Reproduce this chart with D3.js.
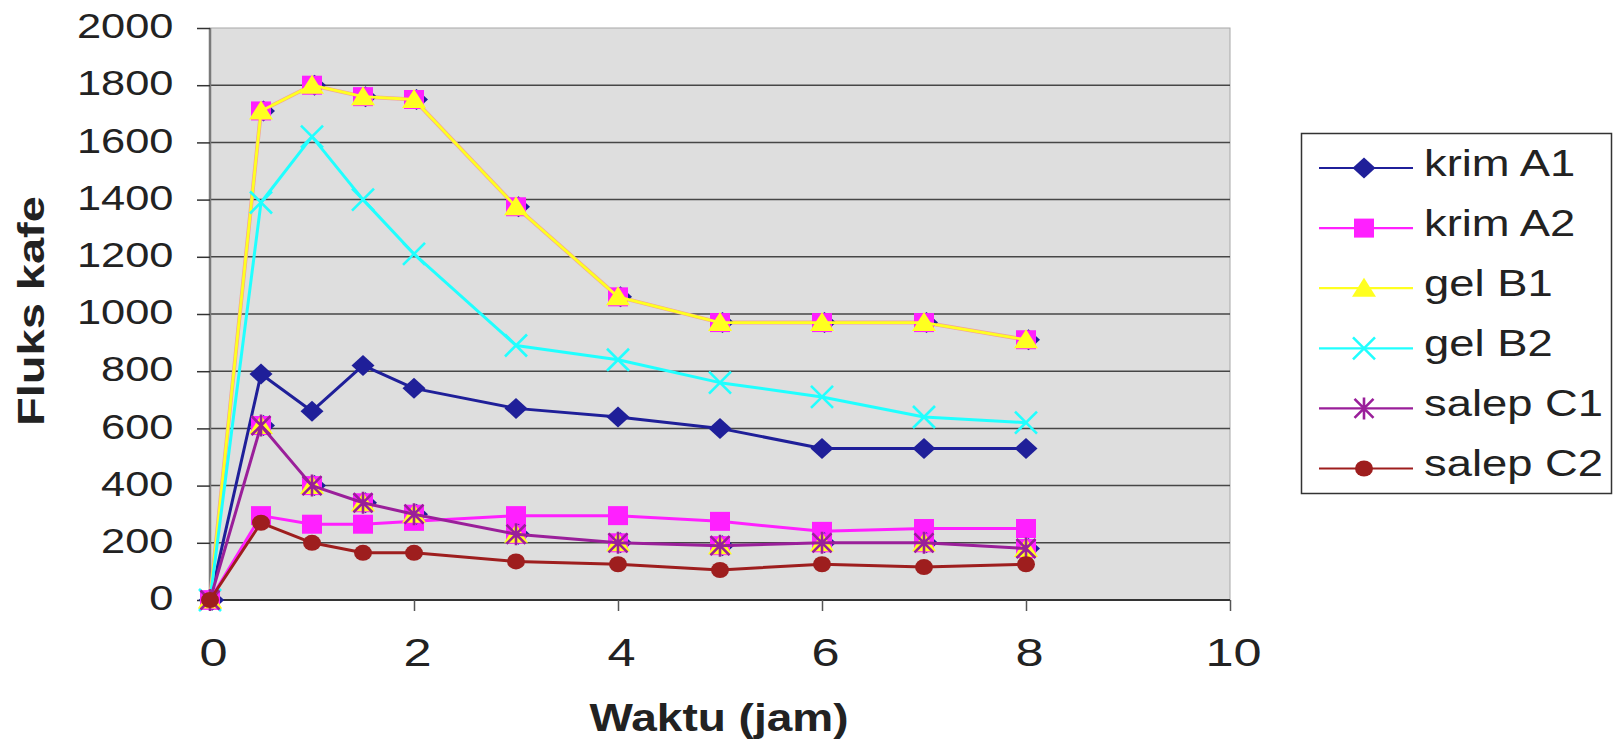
<!DOCTYPE html>
<html>
<head>
<meta charset="utf-8">
<script src="https://cdn.jsdelivr.net/npm/d3@7"></script>
<style>
  html, body { margin: 0; padding: 0; background: #fff; }
  svg { display: block; }
  text { font-family: "Liberation Sans", Arial, sans-serif; fill: #222; }
</style>
</head>
<body>
<svg id="chart" width="1616" height="741"></svg>
<script>
// ---- data ----
const times   = [0, 0.5, 1, 1.5, 2, 3, 4, 5, 6, 7, 8];
const krimA1  = [0, 790, 660, 820, 740, 670, 640, 600, 530, 530, 530];
const krimA2  = [0, 295, 265, 265, 275, 295, 295, 275, 240, 250, 250];
const gelB1   = [0, 1710, 1800, 1760, 1750, 1375, 1060, 970, 970, 970, 910];
const gelB2   = [0, 1390, 1620, 1400, 1210, 890, 840, 760, 710, 640, 620];
const salepC1 = [0, 610, 400, 340, 300, 230, 200, 190, 200, 200, 180];
const salepC2 = [0, 270, 200, 165, 165, 135, 125, 105, 125, 115, 125];
const seriesNames = ["krim A1", "krim A2", "gel B1", "gel B2", "salep C1", "salep C2"];
const xTicks = [0, 2, 4, 6, 8, 10];
const yTicks = [0, 200, 400, 600, 800, 1000, 1200, 1400, 1600, 1800, 2000];
const xTitle = "Waktu (jam)";
const yTitle = "Fluks kafe";

// ---- styles ----
const C = {
  navy: "#1F1F99", magenta: "#FF20FF", yellow: "#FFFF20",
  cyan: "#20FFFF", purple: "#9A1F9A", darkred: "#9E1E1E"
};
const series = [
  {name: seriesNames[0], values: krimA1, color: C.navy, marker: "diamond"},
  {name: seriesNames[1], values: krimA2, color: C.magenta, marker: "square"},
  {name: seriesNames[2], values: gelB1, color: C.yellow, marker: "triangle"},
  {name: seriesNames[3], values: gelB2, color: C.cyan, marker: "cross"},
  {name: seriesNames[4], values: salepC1, color: C.purple, marker: "asterisk"},
  {name: seriesNames[5], values: salepC2, color: C.darkred, marker: "circle"}
];

const svg = d3.select("#chart");
const P = {left: 210, right: 1230, top: 28, bottom: 600};
const x = d3.scaleLinear().domain([0, 10]).range([P.left, P.right]);
const y = d3.scaleLinear().domain([0, 2000]).range([P.bottom, P.top]);

// plot background
svg.append("rect").attr("x", P.left).attr("y", P.top)
  .attr("width", P.right - P.left).attr("height", P.bottom - P.top)
  .attr("fill", "#DEDEDE").attr("stroke", "#A8A8A8").attr("stroke-width", 1);

// gridlines
svg.append("g").selectAll("line").data(yTicks.filter(v => v > 0 && v < 2000)).join("line")
  .attr("x1", P.left).attr("x2", P.right)
  .attr("y1", d => y(d)).attr("y2", d => y(d))
  .attr("stroke", "#464646").attr("stroke-width", 1.5);

// left & bottom axis lines
svg.append("line").attr("x1", P.left).attr("x2", P.left).attr("y1", P.top).attr("y2", P.bottom)
  .attr("stroke", "#7A7A7A").attr("stroke-width", 2.5);
svg.append("line").attr("x1", P.left).attr("x2", P.right).attr("y1", P.bottom).attr("y2", P.bottom)
  .attr("stroke", "#333").attr("stroke-width", 2);

// y axis
const gy = svg.append("g").attr("transform", `translate(${P.left},0)`)
  .call(d3.axisLeft(y).tickValues(yTicks).tickSize(13).tickFormat(d => d));
gy.select(".domain").remove();
gy.selectAll(".tick line").attr("stroke", "#333").attr("stroke-width", 1.5);
gy.selectAll(".tick text")
  .attr("x", null).attr("dy", null).attr("fill", "#222")
  .attr("text-anchor", "end")
  .attr("transform", "translate(-36.5,9.6) scale(1.24,1)")
  .style("font-size", "35px").style("font-family", "'Liberation Sans', Arial, sans-serif");

// x axis
const gx = svg.append("g").attr("transform", `translate(0,${P.bottom})`)
  .call(d3.axisBottom(x).tickValues(xTicks).tickSize(11).tickFormat(d => d));
gx.select(".domain").remove();
gx.selectAll(".tick line").attr("stroke", "#555").attr("stroke-width", 1.5);
gx.selectAll(".tick text")
  .attr("y", null).attr("dy", null).attr("fill", "#222")
  .attr("text-anchor", "middle")
  .attr("transform", "translate(3,66) scale(1.3,1)")
  .style("font-size", "38.8px").style("font-family", "'Liberation Sans', Arial, sans-serif");

// titles
svg.append("text").attr("transform", "translate(719,731) scale(1.18,1)")
  .attr("text-anchor", "middle").style("font-size", "39px").style("font-weight", "bold")
  .text(xTitle);
svg.append("text").attr("transform", "translate(43.5,311) rotate(-90) scale(1.27,1)")
  .attr("text-anchor", "middle").style("font-size", "37px").style("font-weight", "bold")
  .text(yTitle);

// ---- markers ----
function drawMarker(g, type, color, sc) {
  sc = sc || 1;
  if (type === "diamond") {
    g.append("path").attr("d", `M0,${-10.5*sc}L${11.5*sc},0L0,${10.5*sc}L${-11.5*sc},0Z`).attr("fill", color);
  } else if (type === "square") {
    g.append("rect").attr("x", -10*sc).attr("y", -9.5*sc).attr("width", 20*sc).attr("height", 19*sc).attr("fill", color);
  } else if (type === "triangle") {
    g.append("path").attr("d", `M0,${-10.5*sc}L${12*sc},${8.5*sc}L${-12*sc},${8.5*sc}Z`).attr("fill", color);
  } else if (type === "cross") {
    const s = 11*sc;
    g.append("path").attr("d", `M${-s},${-s}L${s},${s}M${-s},${s}L${s},${-s}`)
      .attr("stroke", color).attr("stroke-width", 2.6).attr("fill", "none");
  } else if (type === "asterisk") {
    const s = 9.5*sc;
    g.append("path").attr("d", `M${-s},${-s}L${s},${s}M${-s},${s}L${s},${-s}M0,${-s-1.5}L0,${s+1.5}`)
      .attr("stroke", color).attr("stroke-width", 2.6).attr("fill", "none");
  } else if (type === "circle") {
    g.append("ellipse").attr("rx", 9*sc).attr("ry", 8*sc).attr("fill", color);
  }
}

const line = d3.line().x(d => x(d[0])).y(d => y(d[1]));
const plot = svg.append("g");

function drawLine(values, color, width) {
  plot.append("path").datum(times.map((t, i) => [t, values[i]]))
    .attr("d", line).attr("fill", "none").attr("stroke", color)
    .attr("stroke-width", width).attr("stroke-linejoin", "round");
}
function drawMarkers(values, type, color, dx) {
  times.forEach((t, i) => {
    const g = plot.append("g").attr("transform", `translate(${x(t) + (dx || 0)},${y(values[i])})`);
    drawMarker(g, type, color);
  });
}

// A1, A2
drawLine(krimA1, C.navy, 3); drawMarkers(krimA1, "diamond", C.navy);
drawLine(krimA2, C.magenta, 3); drawMarkers(krimA2, "square", C.magenta);
// overlapping duplicate markers under gel B1
drawLine(gelB1, "#F0A0A0", 4);
drawMarkers(gelB1, "diamond", C.navy, 2.5);
drawMarkers(gelB1, "square", C.magenta);
drawLine(gelB1, C.yellow, 2.8); drawMarkers(gelB1, "triangle", C.yellow);
// B2
drawLine(gelB2, C.cyan, 3); drawMarkers(gelB2, "cross", C.cyan);
// overlapping duplicate markers under salep C1
drawMarkers(salepC1, "diamond", C.navy, 2.5);
drawMarkers(salepC1, "square", C.magenta);
drawMarkers(salepC1, "triangle", C.yellow);
drawLine(salepC1, C.purple, 3); drawMarkers(salepC1, "asterisk", C.purple);
// C2
drawLine(salepC2, C.darkred, 3); drawMarkers(salepC2, "circle", C.darkred);

// ---- legend ----
const L = {x: 1301.5, y: 133.5, w: 310, h: 360};
const leg = svg.append("g");
leg.append("rect").attr("x", L.x).attr("y", L.y).attr("width", L.w).attr("height", L.h)
  .attr("fill", "#fff").attr("stroke", "#333").attr("stroke-width", 1.5);
series.forEach((s, i) => {
  const cy = 168 + i * 60.1;
  const g = leg.append("g").attr("transform", `translate(0,${cy})`);
  g.append("line").attr("x1", 1319).attr("x2", 1413).attr("y1", 0).attr("y2", 0)
    .attr("stroke", s.color).attr("stroke-width", 2.2);
  const m = g.append("g").attr("transform", "translate(1364,0)");
  drawMarker(m, s.marker, s.color);
  g.append("text").attr("transform", "translate(1424,7.5) scale(1.21,1)")
    .style("font-size", "37.5px").text(s.name);
});
</script>
</body>
</html>
